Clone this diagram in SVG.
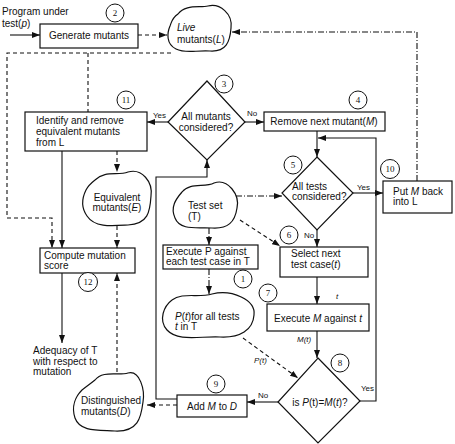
<svg xmlns="http://www.w3.org/2000/svg" width="455" height="444" viewBox="0 0 455 444">
<defs>
<style>
.bx{fill:#fff;stroke:#111;stroke-width:1.2}
.bl{fill:#fff;stroke:#111;stroke-width:1.2}
.num{fill:#fff;stroke:#111;stroke-width:1}
.t{font-family:"Liberation Sans",Arial,sans-serif;font-size:10px;fill:#111}
.s{font-family:"Liberation Sans",Arial,sans-serif;font-size:8px;fill:#111}
.n{font-family:"Liberation Serif","Times New Roman",serif;font-size:9px;fill:#111;text-anchor:middle}
.c{fill:none;stroke:#111;stroke-width:1.1}
.d{stroke-dasharray:4,3}
.dd{stroke-dasharray:6,2,1,2}
.m{text-anchor:middle}
</style>
<marker id="ah" viewBox="0 0 8 6" refX="8" refY="3" markerWidth="8" markerHeight="6" orient="auto" markerUnits="userSpaceOnUse"><path d="M0,0 L8,3 L0,6 Z" fill="#111"/></marker>
</defs>
<rect width="455" height="444" fill="#fff"/>

<g id="connectors">
<path class="c" d="M10,35 H40" marker-end="url(#ah)"/>
<path class="c d" d="M138,35 H167" marker-end="url(#ah)"/>
<path class="c dd" d="M417,181 V32 H232" marker-end="url(#ah)"/>
<path class="c d" d="M171,53 H7 V218 H52 V248" marker-end="url(#ah)"/>
<path class="c d" d="M88,53 V112"/>
<path class="c" d="M168,122 H147" marker-end="url(#ah)"/>
<path class="c" d="M245,122 H264" marker-end="url(#ah)"/>
<path class="c" d="M317,131 V157" marker-end="url(#ah)"/>
<path class="c" d="M360,401 H376 V138 H318" marker-end="url(#ah)"/>
<path class="c" d="M353,193 H383" marker-end="url(#ah)"/>
<path class="c" d="M317,230 V247" marker-end="url(#ah)"/>
<path class="c" d="M317,277 V304" marker-end="url(#ah)"/>
<path class="c" d="M317,331 V358" marker-end="url(#ah)"/>
<path class="c" d="M278,402 H247" marker-end="url(#ah)"/>
<path class="c d" d="M177,405 H147" marker-end="url(#ah)"/>
<path class="c" d="M177,399 H156 V177 H207 V160" marker-end="url(#ah)"/>
<path class="c" d="M62,151 V248" marker-end="url(#ah)"/>
<path class="c d" d="M117,151 V172" marker-end="url(#ah)"/>
<path class="c d" d="M117,226 V248" marker-end="url(#ah)"/>
<path class="c" d="M62,273 V343" marker-end="url(#ah)"/>
<path class="c d" d="M117,372 V273" marker-end="url(#ah)"/>
<path class="c dd" d="M236,196 H282" marker-end="url(#ah)"/>
<path class="c d" d="M240,220 L280,246" marker-end="url(#ah)"/>
<path class="c dd" d="M209,228 V245" marker-end="url(#ah)"/>
<path class="c dd" d="M209,269 V294" marker-end="url(#ah)"/>
<path class="c d" d="M243,338 L298,378" marker-end="url(#ah)"/>
<text class="s" x="153" y="118">Yes</text>
<text class="s" x="247" y="116">No</text>
<text class="s" x="357" y="190">Yes</text>
<text class="s" x="304" y="238">No</text>
<text class="s" x="336" y="299" font-style="italic">t</text>
<text class="s" x="297" y="342" font-style="italic">M(t)</text>
<text class="s" x="361" y="391">Yes</text>
<text class="s" x="258" y="398">No</text>
<text class="s" x="254" y="363" font-style="italic">P(t)</text>
</g>

<g id="input">
<text class="t" x="2" y="15">Program under</text>
<text class="t" x="2" y="27">test(<tspan font-style="italic">p</tspan>)</text>
</g>

<g id="n2">
<rect class="bx" x="40" y="24" width="98" height="24"/>
<text class="t m" x="89" y="39">Generate mutants</text>
<circle class="num" cx="115" cy="13" r="9"/><text class="n" x="115" y="16">2</text>
</g>

<g id="live">
<path class="bl" d="M178,14 C185,4 200,8 208,6 C220,3 233,14 231,28 C230,42 226,52 210,51 C196,50 186,54 176,49 C166,44 167,33 170,26 C172,21 172,18 178,14 Z"/>
<text class="t" x="177" y="31" font-style="italic">Live</text>
<text class="t" x="177" y="43">mutants(<tspan font-style="italic">L</tspan>)</text>
</g>

<g id="n11">
<rect class="bx" x="25" y="112" width="122" height="39"/>
<text class="t" x="36" y="124">Identify and remove</text>
<text class="t" x="36" y="135">equivalent mutants</text>
<text class="t" x="36" y="146">from L</text>
<circle class="num" cx="126" cy="100" r="9"/><text class="n" x="126" y="103">11</text>
</g>

<g id="n3">
<path class="bx" d="M207,81 L245,122 L207,160 L168,122 Z"/>
<text class="t m" x="206" y="120">All mutants</text>
<text class="t m" x="206" y="131">considered?</text>
<circle class="num" cx="224" cy="84" r="9"/><text class="n" x="224" y="87">3</text>
</g>

<g id="n4">
<rect class="bx" x="264" y="112" width="121" height="19"/>
<text class="t m" x="324" y="125">Remove next mutant(<tspan font-style="italic">M</tspan>)</text>
<circle class="num" cx="358" cy="100" r="9"/><text class="n" x="358" y="103">4</text>
</g>

<g id="n5">
<path class="bx" d="M317,157 L353,193 L317,230 L282,193 Z"/>
<text class="t" x="292" y="190">All tests</text>
<text class="t" x="292" y="200">considered?</text>
<circle class="num" cx="293" cy="165" r="9"/><text class="n" x="293" y="168">5</text>
</g>

<g id="n10">
<rect class="bx" x="383" y="181" width="69" height="32"/>
<text class="t" x="393" y="195">Put <tspan font-style="italic">M</tspan> back</text>
<text class="t" x="393" y="205">into L</text>
<circle class="num" cx="390" cy="169" r="9.5"/><text class="n" x="390" y="172">10</text>
</g>

<g id="equiv">
<path class="bl" d="M95,180 C105,170 118,176 128,172 C142,168 153,182 151,196 C150,212 148,224 128,225 C112,226 95,228 87,216 C80,206 83,196 86,190 C88,186 90,184 95,180 Z"/>
<text class="t m" x="117" y="201">Equivalent</text>
<text class="t m" x="117" y="211">mutants(<tspan font-style="italic">E</tspan>)</text>
</g>

<g id="testset">
<path class="bl" d="M182,192 C190,182 205,188 214,183 C228,178 240,195 237,208 C235,222 228,229 212,228 C198,227 180,231 175,218 C170,207 176,199 182,192 Z"/>
<text class="t" x="188" y="209">Test set</text>
<text class="t" x="188" y="220">(T)</text>
</g>

<g id="n6">
<rect class="bx" x="280" y="247" width="88" height="30"/>
<text class="t" x="291" y="257" font-size="8.5">Select next</text>
<text class="t" x="291" y="268" font-size="8.5">test case(<tspan font-style="italic">t</tspan>)</text>
<circle class="num" cx="289" cy="235" r="9"/><text class="n" x="289" y="238">6</text>
</g>

<g id="n1">
<rect class="bx" x="163" y="245" width="95" height="24"/>
<text class="t" x="166" y="255">Execute P against</text>
<text class="t" x="166" y="265">each test case in T</text>
<circle class="num" cx="243" cy="279" r="9"/><text class="n" x="243" y="282">1</text>
</g>

<g id="pt">
<path class="bl" d="M172,300 C182,292 198,298 212,294 C232,289 256,300 254,315 C253,330 240,338 220,337 C200,336 178,342 167,330 C158,320 164,306 172,300 Z"/>
<text class="t" x="175" y="320"><tspan font-style="italic">P</tspan>(<tspan font-style="italic">t</tspan>)for all tests</text>
<text class="t" x="175" y="330"><tspan font-style="italic">t</tspan> in T</text>
</g>

<g id="n7">
<rect class="bx" x="267" y="304" width="102" height="27"/>
<text class="t m" x="318" y="322">Execute <tspan font-style="italic">M</tspan> against <tspan font-style="italic">t</tspan></text>
<circle class="num" cx="268" cy="293" r="9"/><text class="n" x="268" y="296">7</text>
</g>

<g id="n8">
<path class="bx" d="M318,358 L360,401 L318,443 L278,402 Z"/>
<text class="t m" x="320" y="406" font-size="10.5">is <tspan font-style="italic">P</tspan>(t)=<tspan font-style="italic">M</tspan>(<tspan font-style="italic">t</tspan>)?</text>
<circle class="num" cx="340" cy="363" r="9"/><text class="n" x="340" y="366">8</text>
</g>

<g id="n9">
<rect class="bx" x="177" y="395" width="70" height="22"/>
<text class="t m" x="212" y="410">Add <tspan font-style="italic">M</tspan> to <tspan font-style="italic">D</tspan></text>
<circle class="num" cx="216" cy="384" r="9"/><text class="n" x="216" y="387">9</text>
</g>

<g id="dist">
<path class="bl" d="M95,380 C103,370 118,376 128,373 C140,370 145,390 143,402 C141,418 138,432 115,431 C98,430 80,432 75,418 C71,406 76,396 82,390 C87,386 90,384 95,380 Z"/>
<text class="t" x="81" y="404">Distinguished</text>
<text class="t" x="81" y="415">mutants(<tspan font-style="italic">D</tspan>)</text>
</g>

<g id="n12">
<rect class="bx" x="40" y="248" width="95" height="25"/>
<text class="t" x="44" y="259">Compute mutation</text>
<text class="t" x="44" y="269">score</text>
<circle class="num" cx="88" cy="282" r="9.5"/><text class="n" x="88" y="285">12</text>
</g>

<g id="output">
<text class="t" x="33" y="354">Adequacy of T</text>
<text class="t" x="33" y="365">with respect to</text>
<text class="t" x="33" y="375">mutation</text>
</g>
</svg>
